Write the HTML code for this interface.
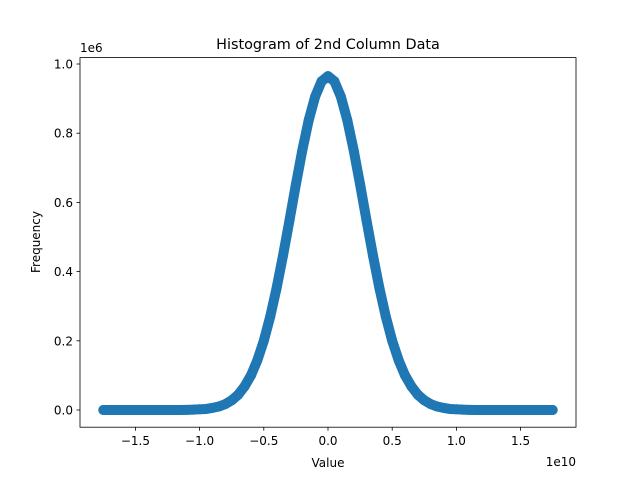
<!DOCTYPE html>
<html><head><meta charset="utf-8"><style>
body{margin:0;background:#fff}
svg text{font-family:"DejaVu Sans","Liberation Sans",sans-serif;fill:#000}
</style></head><body>
<svg id="chart" width="640" height="480" viewBox="0 0 640 480">
<rect width="640" height="480" fill="#fff"/>
<g id="marks"></g>
<rect x="80" y="57.6" width="496" height="369.6" fill="none" stroke="#000" stroke-width="0.8"/>
<g id="axes"></g>
<text x="328" y="49" font-size="14.4" text-anchor="middle">Histogram of 2nd Column Data</text>
<text x="328" y="467" font-size="12" text-anchor="middle">Value</text>
<text transform="translate(40,242) rotate(-90)" font-size="12" text-anchor="middle">Frequency</text>
<text x="80" y="52" font-size="12">1e6</text>
<text x="576" y="466" font-size="12" text-anchor="end">1e10</text>
</svg>
<script>
const xStart = -1.75, xStep = 0.05;
const yValues = [0,0,0,0,0,0,0,0,0,0,0,0,0,0.0005,0.001,0.002,0.003,0.006,0.010,0.017,0.028,0.044,0.068,0.100,0.144,0.200,0.270,0.353,0.447,0.548,0.652,0.751,0.838,0.906,0.950,0.965,0.950,0.906,0.838,0.751,0.652,0.548,0.447,0.353,0.270,0.200,0.144,0.100,0.068,0.044,0.028,0.017,0.010,0.006,0.003,0.002,0.001,0.0005,0,0,0,0,0,0,0,0,0,0,0,0,0];
const xTicks = [-1.5,-1.0,-0.5,0,0.5,1.0,1.5];
const xTickLabels = ["\u22121.5","\u22121.0","\u22120.5","0.0","0.5","1.0","1.5"];
const yTicks = [0,0.2,0.4,0.6,0.8,1.0];
const yTickLabels = ["0.0","0.2","0.4","0.6","0.8","1.0"];
const NS="http://www.w3.org/2000/svg";
const xS = v => 328 + v*128.4;
const yS = v => 410 - v*346;
const marks=document.getElementById('marks');
const pts=yValues.map((v,i)=>xS(xStart+i*xStep).toFixed(2)+','+yS(v).toFixed(2)).join(' ');
const pl=document.createElementNS(NS,'polyline');
pl.setAttribute('points',pts);pl.setAttribute('fill','none');pl.setAttribute('stroke','#1f77b4');
pl.setAttribute('stroke-width','10');pl.setAttribute('stroke-linejoin','round');pl.setAttribute('stroke-linecap','round');


marks.appendChild(pl);
yValues.forEach((v,i)=>{
  const c=document.createElementNS(NS,'circle');
  c.setAttribute('cx',xS(xStart+i*xStep));c.setAttribute('cy',yS(v));c.setAttribute('r',5);
  c.setAttribute('fill','#1f77b4');
  
  
  marks.appendChild(c);
});
const ax=document.getElementById('axes');
xTicks.forEach((t,i)=>{
  const x=xS(t);
  const l=document.createElementNS(NS,'line');
  l.setAttribute('x1',x);l.setAttribute('x2',x);l.setAttribute('y1',427.2);l.setAttribute('y2',430.7);l.setAttribute('stroke','#000');l.setAttribute('stroke-width','0.8');
  
  
  ax.appendChild(l);
  const tx=document.createElementNS(NS,'text');
  tx.setAttribute('x',x);tx.setAttribute('y',445);tx.setAttribute('font-size','12');tx.setAttribute('text-anchor','middle');tx.textContent=xTickLabels[i];
  
  
  ax.appendChild(tx);
});
yTicks.forEach((t,i)=>{
  const y=yS(t);
  const l=document.createElementNS(NS,'line');
  l.setAttribute('x1',76.5);l.setAttribute('x2',80);l.setAttribute('y1',y);l.setAttribute('y2',y);l.setAttribute('stroke','#000');l.setAttribute('stroke-width','0.8');
  
  
  ax.appendChild(l);
  const tx=document.createElementNS(NS,'text');
  tx.setAttribute('x',73);tx.setAttribute('y',y+4.5);tx.setAttribute('font-size','12');tx.setAttribute('text-anchor','end');tx.textContent=yTickLabels[i];
  
  
  ax.appendChild(tx);
});
</script>
</body></html>
